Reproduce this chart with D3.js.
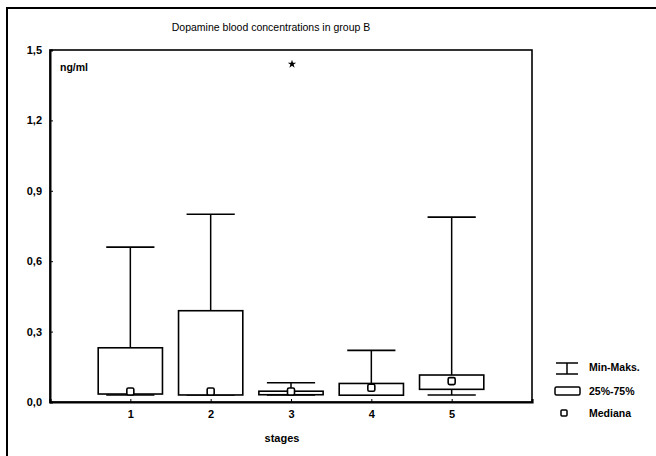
<!DOCTYPE html>
<html>
<head>
<meta charset="utf-8">
<script src="https://cdn.jsdelivr.net/npm/d3@7"></script>
<style>
  body { margin: 0; background: #fff; }
  svg { display: block; }
  text { font-family: "Liberation Sans", Arial, sans-serif; fill: #000; }
</style>
</head>
<body>
<script>
// ---- Data ----
const stages = [1, 2, 3, 4, 5];
const minVals = [0.03, 0.03, 0.03, 0.03, 0.03];
const q1Vals = [0.034, 0.03, 0.031, 0.029, 0.054];
const medianVals = [0.045, 0.045, 0.045, 0.061, 0.089];
const q3Vals = [0.231, 0.389, 0.046, 0.079, 0.115];
const maxVals = [0.66, 0.80, 0.082, 0.22, 0.788];
const outlierStages = [3];
const outlierVals = [1.44];
const yTicks = [0, 0.3, 0.6, 0.9, 1.2, 1.5];
const legendLabels = ["Min-Maks.", "25%-75%", "Mediana"];
const titleText = "Dopamine blood concentrations in group B";
const xLabel = "stages";
const unitLabel = "ng/ml";

// ---- Layout ----
const W = 656, H = 456;
const plot = { left: 50, top: 50, right: 532, bottom: 402 };

const svg = d3.select("body").append("svg").attr("width", W).attr("height", H);

// outer frame (partially cropped)
svg.append("path")
  .attr("d", `M7,${H + 5} L7,8 L${W + 5},8`)
  .attr("fill", "none").attr("stroke", "#000").attr("stroke-width", 2);

const x = d3.scaleLinear().domain([0, 6]).range([plot.left, plot.right]);
const y = d3.scaleLinear().domain([0, 1.5]).range([plot.bottom, plot.top]);

const fmt = d => d3.format(".1f")(d).replace(".", ",");

// plot frame
svg.append("rect")
  .attr("x", plot.left).attr("y", plot.top)
  .attr("width", plot.right - plot.left).attr("height", plot.bottom - plot.top)
  .attr("fill", "none").attr("stroke", "#000").attr("stroke-width", 1.6);

// y axis
const yAxis = svg.append("g").attr("transform", `translate(${plot.left},0)`)
  .call(d3.axisLeft(y).tickValues(yTicks).tickFormat(fmt).tickSize(-3).tickPadding(8));
yAxis.select(".domain").attr("stroke-width", 2);
yAxis.selectAll("text").attr("font-size", 11).attr("font-weight", "bold");

// x axis
const xAxis = svg.append("g").attr("transform", `translate(0,${plot.bottom})`)
  .call(d3.axisBottom(x).tickValues(stages).tickFormat(d3.format("d")).tickSize(-3).tickPadding(8));
xAxis.select(".domain").attr("stroke-width", 2.2);
xAxis.selectAll("text").attr("font-size", 11).attr("font-weight", "bold");

// title
svg.append("text").attr("x", 271).attr("y", 31).attr("text-anchor", "middle")
  .attr("font-size", 10.5).text(titleText);
// unit
svg.append("text").attr("x", 60).attr("y", 71).attr("font-size", 10.5).attr("font-weight", "bold").text(unitLabel);
// x label
svg.append("text").attr("x", 282).attr("y", 442).attr("text-anchor", "middle")
  .attr("font-size", 11).attr("font-weight", "bold").text(xLabel);

// boxes
const boxW = 0.8, capW = 0.6;
const data = stages.map((s, i) => ({ s, min: minVals[i], q1: q1Vals[i], med: medianVals[i], q3: q3Vals[i], max: maxVals[i] }));
const g = svg.append("g").attr("stroke", "#000").attr("fill", "none");

data.forEach(d => {
  const cx = x(d.s);
  g.append("line").attr("x1", cx).attr("x2", cx).attr("y1", y(d.q3)).attr("y2", y(d.max)).attr("stroke-width", 1.5);
  g.append("line").attr("x1", cx).attr("x2", cx).attr("y1", y(d.q1)).attr("y2", y(d.min)).attr("stroke-width", 1.5);
  g.append("line").attr("x1", x(d.s - capW / 2)).attr("x2", x(d.s + capW / 2))
    .attr("y1", y(d.max)).attr("y2", y(d.max)).attr("stroke-width", 1.6);
  g.append("line").attr("x1", x(d.s - capW / 2)).attr("x2", x(d.s + capW / 2))
    .attr("y1", y(d.min)).attr("y2", y(d.min)).attr("stroke-width", 1.6);
  g.append("rect").attr("x", x(d.s - boxW / 2)).attr("y", y(d.q3))
    .attr("width", x(d.s + boxW / 2) - x(d.s - boxW / 2)).attr("height", Math.max(1, y(d.q1) - y(d.q3)))
    .attr("fill", "#fff").attr("stroke-width", 1.6);
  g.append("rect").attr("x", cx - 3.5).attr("y", y(d.med) - 3.5).attr("width", 7).attr("height", 7)
    .attr("rx", 1.5).attr("fill", "#fff").attr("stroke-width", 1.6);
});

// outliers
outlierStages.forEach((s, i) => {
  svg.append("path").attr("d", d3.symbol(d3.symbolStar, 22)())
    .attr("transform", `translate(${x(s) + 1},${y(outlierVals[i])})`).attr("fill", "#000");
});

// legend
const lg = svg.append("g");
const lx = 567, rows = [367, 391, 413];
lg.append("line").attr("x1", lx - 11).attr("x2", lx + 11).attr("y1", rows[0] - 4).attr("y2", rows[0] - 4).attr("stroke", "#000").attr("stroke-width", 1.5);
lg.append("line").attr("x1", lx - 11).attr("x2", lx + 11).attr("y1", rows[0] + 7).attr("y2", rows[0] + 7).attr("stroke", "#000").attr("stroke-width", 1.5);
lg.append("line").attr("x1", lx).attr("x2", lx).attr("y1", rows[0] - 4).attr("y2", rows[0] + 7).attr("stroke", "#000").attr("stroke-width", 1.5);
lg.append("rect").attr("x", 555).attr("y", rows[1] - 4).attr("width", 25).attr("height", 8).attr("rx", 1.5)
  .attr("fill", "#fff").attr("stroke", "#000").attr("stroke-width", 1.5);
lg.append("rect").attr("x", 561).attr("y", rows[2] - 3).attr("width", 6).attr("height", 6).attr("rx", 1)
  .attr("fill", "#fff").attr("stroke", "#000").attr("stroke-width", 1.5);
legendLabels.forEach((t, i) => {
  lg.append("text").attr("x", 589).attr("y", rows[i]).attr("dy", "0.35em")
    .attr("font-size", 10.5).attr("font-weight", "bold").text(t);
});
</script>
</body>
</html>
